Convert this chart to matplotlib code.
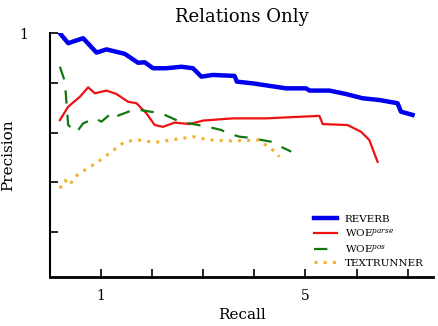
import matplotlib
matplotlib.use('Agg')
import matplotlib.pyplot as plt

plt.rcParams['font.family'] = 'DejaVu Serif'
plt.rcParams['mathtext.fontset'] = 'dejavuserif'

# precision / recall curves
reverb_r = [0.195, 0.357, 0.650, 0.912, 1.107, 1.465, 1.725, 1.855, 2.018, 2.279, 2.572, 2.799,
	2.963, 3.189, 3.613, 3.658, 3.971, 4.623, 5.014, 5.078, 5.469, 5.795, 6.119, 6.445, 6.803,
	6.869, 7.096]
reverb_p = [1.0, 0.960, 0.980, 0.922, 0.935, 0.917, 0.881, 0.883, 0.859, 0.859, 0.865, 0.859,
	0.825, 0.832, 0.828, 0.805, 0.798, 0.778, 0.778, 0.769, 0.769, 0.755, 0.738, 0.731, 0.718,
	0.684, 0.671]

parse_r = [0.195, 0.357, 0.586, 0.748, 0.879, 1.107, 1.303, 1.529, 1.693, 1.889, 2.051, 2.213,
	2.441, 2.734, 2.994, 3.580, 4.232, 4.947, 5.273, 5.338, 5.826, 6.088, 6.250, 6.348, 6.412]
parse_p = [0.650, 0.704, 0.744, 0.782, 0.758, 0.769, 0.755, 0.724, 0.718, 0.677, 0.630, 0.623,
	0.640, 0.634, 0.648, 0.657, 0.657, 0.664, 0.667, 0.634, 0.630, 0.603, 0.570, 0.516, 0.482]

pos_r = [0.195, 0.293, 0.357, 0.521, 0.650, 0.879, 1.010, 1.236, 1.334, 1.627, 1.791, 2.051,
	2.246, 2.539, 3.092, 3.354, 3.482, 3.711, 3.906, 4.135, 4.330, 4.557, 4.721]
pos_p = [0.865, 0.805, 0.630, 0.601, 0.637, 0.657, 0.644, 0.684, 0.668, 0.691, 0.690, 0.681,
	0.671, 0.644, 0.623, 0.610, 0.597, 0.583, 0.579, 0.570, 0.563, 0.539, 0.523]

tr_r = [0.195, 0.293, 0.391, 0.488, 0.684, 0.943, 1.205, 1.465, 1.725, 2.051, 2.377, 2.799,
	3.125, 3.580, 4.102, 4.264, 4.395, 4.492]
tr_p = [0.375, 0.408, 0.388, 0.422, 0.449, 0.482, 0.523, 0.563, 0.570, 0.560, 0.570, 0.583,
	0.570, 0.566, 0.570, 0.543, 0.525, 0.502]

x_ticks = [1, 2, 3, 4, 5, 6, 7]
x_labels = ['1', '', '', '', '5', '', '']
y_ticks = [0.2, 0.4, 0.6, 0.8, 1.0]
y_labels = ['', '', '', '', '1']

fig = plt.figure(figsize=(4.38, 3.26), dpi=100)
ax = fig.add_axes([0.114, 0.149, 0.875, 0.749])

ax.plot(reverb_r, reverb_p, color='#0000ee', lw=3.2, label='REVERB')
ax.plot(parse_r, parse_p, color='#ee1111', lw=1.6, label=r'WOE$^{\mathit{parse}}$')
ax.plot(pos_r, pos_p, color='#117711', lw=1.6, dashes=(6, 5), label=r'WOE$^{\mathit{pos}}$')
ax.plot(tr_r, tr_p, color='#f2b030', lw=2.2, linestyle=(0, (1, 2)), label='TEXTRUNNER')

ax.set_xlim(0, 7.5)
ax.set_ylim(0.016, 1.0)
ax.set_xticks(x_ticks)
ax.set_xticklabels(x_labels, fontsize=10)
ax.set_yticks(y_ticks)
ax.set_yticklabels(y_labels, fontsize=10)
ax.tick_params(direction='in', length=6, width=1.2)
ax.tick_params(axis='x', pad=8)
ax.tick_params(axis='y', pad=16)

for s in ['top', 'right']:
	ax.spines[s].set_visible(False)
ax.spines['left'].set_linewidth(1.5)
ax.spines['bottom'].set_linewidth(2)

ax.set_title('Relations Only', fontsize=13, pad=8)
ax.set_xlabel('Recall', fontsize=11)
ax.set_ylabel('Precision', fontsize=11, labelpad=3)

ax.legend(loc='lower right', frameon=False, fontsize=7.5, handlelength=2.2,
	labelspacing=0.35, bbox_to_anchor=(1.0, 0.0))

fig.savefig('out.png', dpi=100)
